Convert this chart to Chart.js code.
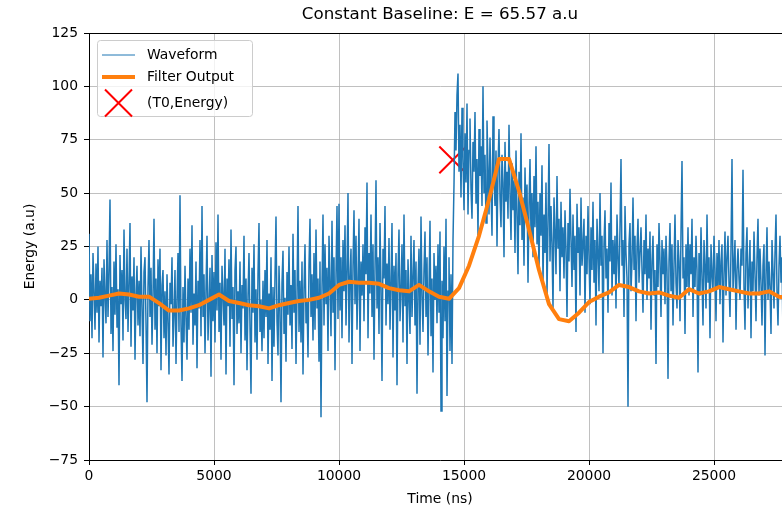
<!DOCTYPE html>
<html>
<head>
<meta charset="utf-8">
<script src="https://cdn.jsdelivr.net/npm/chart.js@4"></script>
<style>
  html, body { margin: 0; padding: 0; background: #fff; overflow: hidden; }
  #wrap { width: 782px; height: 511px; overflow: hidden; }
</style>
</head>
<body>
<div id="wrap"><canvas id="chart" width="792" height="511"></canvas></div>
<script>
const FONT = "'DejaVu Sans', sans-serif";

// waveform, one sample every 40 ns starting at t = 0 (one row = 1000 ns)
const waveStep = 40;
const waveform = [
  31, -10, 12, -18, 22, 4, -14, 17, -6, 25, -20, 9, -3, 15, -27, 19, 2, -11, 28, -8, 13, 47, -16, 6, -24,
  18, -7, 26, -13, 5, -40, 21, -2, 14, -19, 33, 0, -9, 24, -15, 8, 36, -22, 11, -5, 20, -28, 3, 16, -12,
  9, -17, 25, -4, -30, 13, 20, -11, -48, 6, 28, -8, 15, -21, 2, 38, -14, 10, -25, 19, -3, 24, -33, 7, 14,
  -18, 4, -26, 12, -10, -35, 8, -2, 20, -22, -7, 14, -30, 0, 22, -15, 49, -12, -38, 6, -20, 16, -9, -28, 10,
  -14, 24, -6, 35, -21, 3, -12, 18, -32, 9, -4, 28, -17, 44, -8, 12, -25, 5, 30, -19, -2, 15, -36, 21, -10,
  13, -20, 27, -5, 40, -15, 8, -28, 16, 2, -12, 24, -35, 10, -3, 19, -22, 33, -9, 6, -40, 14, 25, -16, 4,
  -11, 18, -25, 7, -4, 30, -19, 10, -33, 2, 22, -13, -44, 15, -6, 26, -20, 5, -28, 12, 36, -15, 0, -24, 9,
  -18, 14, -8, 28, -30, 3, -14, 20, -38, 6, -22, 11, 39, -10, -26, 16, -4, -48, 8, 23, -16, 1, -29, 13, -7,
  25, -12, 7, -23, 31, -6, 14, -30, 2, 44, -15, 9, -20, 18, -35, 5, 26, -11, 0, -27, 16, 38, -8, 12, -19,
  22, -14, 33, -4, 10, -29, 18, -55, 6, 40, -12, 26, -2, 15, -24, 30, 8, -17, 37, -6, 20, -33, 12, 44, -9,
  45, -5, 20, -18, 28, 4, 35, -12, 14, 50, -20, 10, 24, -30, 16, 42, -2, 30, -14, 8, 38, -24, 18, 2, 26,
  -10, 34, 12, 55, -18, 22, 3, 40, -8, 26, -28, 15, 56, -4, 20, -16, 36, 6, -38, 24, 10, 44, -12, 17, -2,
  29, -14, 8, 36, -27, 16, -5, 22, -40, 12, 33, -10, 4, 26, -20, 40, -3, 14, -30, 19, 1, -16, 30, -8, 11,
  28, -12, 18, -44, 7, 24, -21, 39, 2, -15, 14, 32, -8, 20, -26, 5, 37, -17, 10, -34, 22, 0, 16, -11, 26,
  -6, 32, -52, 9, -18, 25, -10, 38, -45, 4, 20, -24, 12, -30, 28, 54, 88, 70, 96, 106, 60, 82, 48, 90, 66,
  42, 78, 55, 92, 40, 70, 85, 52, 38, 74, 60, 88, 45, 66, 30, 80, 58, 72, 44, 100, 50, 68, 36, 84, 62,
  40, 76, 52, 30, 86, 58, 44, 70, 25, 62, 80, 48, 34, 68, 55, 20, 74, 46, 60, 38, 82, 50, 28, 64, 42,
  56, 22, 70, 40, 12, 60, 35, 78, 28, 48, 16, 62, 38, 54, 8, 44, 66, 30, 50, 20, 58, 34, 72, 26, 46,
  14, 50, 30, 63, 8, 40, 22, 55, 2, 36, 73, 18, 44, 26, -4, 48, 32, 12, 58, 24, 38, 4, 46, 20, 34,
  10, 42, 24, -8, 36, 18, 52, 28, 6, 40, 14, 30, -15, 45, 22, 34, 2, 48, 16, 26, 38, -6, 30, 12, 44,
  20, -2, 34, 14, 46, 8, 28, -12, 38, 22, 4, 50, 16, 30, -25, 26, 42, 10, 24, -6, 36, 18, 55, 2, 28,
  12, 30, -4, 40, 20, 6, 34, 66, 16, 28, -8, 44, 22, 10, -50, 26, 36, 4, 18, 48, 14, 30, -10, 24, 38,
  8, 22, 34, 14, -6, 28, 12, 40, 0, 24, 10, 32, -14, 18, 30, 2, 14, -30, 26, 6, 36, 18, -8, 28, 12,
  24, -2, 30, 14, -37, 18, 36, 4, 26, -12, 16, 40, 8, -4, 28, 18, -10, 32, 65, 10, 20, -16, 26, 6, 34,
  2, 26, 12, 38, -8, 20, 6, 30, 14, -34, 22, 2, 34, 10, -12, 28, 16, -4, 40, 8, 20, -18, 26, 12, 4,
  30, 14, -10, 22, 6, 28, -2, 18, 26, -20, 12, 32, 2, 20, 30, 8, -8, 24, 66, 4, 16, 28, -14, 14, 24,
  10, 0, 24, 16, 61, 6, -14, 22, 34, -4, 14, 28, -18, 18, 4, 32, 12, -10, 20, 38, 2, 24, 8, -12, 16,
  26, -26, 12, 34, 0, 18, 6, -16, 28, 14, -4, 22, 40, 4, -12, 16, 30, 8, 20, -18, 24, 2, 32, 10, -2,
  18, 6, 24
];

// filter output, one value every 400 ns
const filterStep = 400;
const filterOutput = [
  0.5, 1, 2, 3, 2.5, 1.5, 1.5, -1.5, -5, -5,
  -4, -2.5, 0, 2.5, -0.5, -1.5, -2.5, -3, -4, -2.5,
  -1.5, -0.5, 0, 1, 3, 7, 8.5, 8, 8, 7.5,
  5.5, 4.5, 4, 7, 4, 1.5, 0.5, 5.5, 16, 30,
  47, 66, 66, 51, 33, 14, -2, -9, -10, -6,
  -1, 1.5, 3.5, 7, 6, 4, 3, 3.5, 2, 1,
  5, 3, 4, 6, 5, 4, 3, 3, 4, 1.5, 1
];

const t0 = 14550;
const energy = 65.57;

const xMax = 28080;
const xTicks = [0, 5000, 10000, 15000, 20000, 25000];
const yMin = -75, yMax = 125;
const yTicks = [-75, -50, -25, 0, 25, 50, 75, 100, 125];

const titleText = "Constant Baseline: E = " + energy + " a.u";
const legendItems = ["Waveform", "Filter Output", "(T0,Energy)"];

const mplDecor = {
  id: "mplDecor",
  afterDraw(chart) {
    const { ctx, chartArea } = chart;
    ctx.save();
    // top spine
    ctx.strokeStyle = "#000";
    ctx.lineWidth = 1;
    ctx.beginPath();
    ctx.moveTo(chartArea.left, Math.round(chartArea.top) + 0.5);
    ctx.lineTo(chartArea.right, Math.round(chartArea.top) + 0.5);
    ctx.stroke();

    // title centred over the axes
    ctx.fillStyle = "#000";
    ctx.font = "16.7px " + FONT;
    ctx.textAlign = "center";
    ctx.textBaseline = "middle";
    ctx.fillText(titleText, (chartArea.left + chartArea.right) / 2, 15);

    // legend box
    const bx = chartArea.left + 8, by = chartArea.top + 7, bw = 155, bh = 76;
    ctx.beginPath();
    ctx.roundRect(bx + 0.5, by + 0.5, bw, bh, 3);
    ctx.fillStyle = "rgba(255,255,255,0.8)";
    ctx.fill();
    ctx.strokeStyle = "#cccccc";
    ctx.stroke();

    const rows = [by + 15, by + 37, by + 63];
    const lx0 = bx + 5, lx1 = bx + 38;
    ctx.strokeStyle = "#1f77b4";
    ctx.lineWidth = 1;
    ctx.beginPath();
    ctx.moveTo(lx0, rows[0]); ctx.lineTo(lx1, rows[0]);
    ctx.stroke();
    ctx.strokeStyle = "#ff7f0e";
    ctx.lineWidth = 4;
    ctx.beginPath();
    ctx.moveTo(lx0, rows[1]); ctx.lineTo(lx1, rows[1]);
    ctx.stroke();
    ctx.strokeStyle = "red";
    ctx.lineWidth = 2;
    const cx = (lx0 + lx1) / 2, h = 13.5;
    ctx.beginPath();
    ctx.moveTo(cx - h, rows[2] - h); ctx.lineTo(cx + h, rows[2] + h);
    ctx.moveTo(cx - h, rows[2] + h); ctx.lineTo(cx + h, rows[2] - h);
    ctx.stroke();

    ctx.fillStyle = "#000";
    ctx.font = "13.9px " + FONT;
    ctx.textAlign = "left";
    legendItems.forEach((label, i) => ctx.fillText(label, bx + 50, rows[i]));
    ctx.restore();
  },
};

const minus = (v) => String(v).replace("-", "\u2212");

const data = {
  datasets: [
    {
      label: legendItems[0],
      data: waveform.map((v, i) => ({ x: i * waveStep, y: v })),
      borderColor: "#1f77b4",
      borderWidth: 1.5,
      pointRadius: 0,
      order: 2,
    },
    {
      label: legendItems[1],
      data: filterOutput.map((v, i) => ({ x: i * filterStep, y: v })),
      borderColor: "#ff7f0e",
      borderWidth: 4,
      borderJoinStyle: "round",
      borderCapStyle: "round",
      pointRadius: 0,
      order: 1,
    },
    {
      label: legendItems[2],
      data: [{ x: t0, y: energy }],
      showLine: false,
      pointStyle: "crossRot",
      pointRadius: 19,
      pointBorderColor: "red",
      pointBorderWidth: 2,
      order: 3,
    },
  ],
};

const tickFont = { family: FONT, size: 13.9 };
const gridStyle = { color: "#b0b0b0", lineWidth: 0.8, tickColor: "#000", tickLength: 5, tickWidth: 1 };

const options = {
  responsive: false,
  animation: false,
  devicePixelRatio: 1,
  layout: { autoPadding: false, padding: { left: 0, right: 1, top: 33, bottom: 0 } },
  plugins: {
    legend: { display: false },
    tooltip: { enabled: false },
    title: { display: false },
  },
  scales: {
    x: {
      type: "linear",
      min: 0,
      max: xMax,
      afterBuildTicks: (s) => { s.ticks = xTicks.map((value) => ({ value })); },
      ticks: {
        autoSkip: false,
        maxRotation: 0,
        color: "#000",
        font: tickFont,
        padding: 3,
        callback: (v) => String(v),
      },
      grid: gridStyle,
      border: { color: "#000", width: 1 },
      title: { display: true, text: "Time (ns)", color: "#000", font: tickFont, padding: { top: 0, bottom: 3 } },
      afterFit: (s) => { s.height = 51; s.paddingLeft = 0; s.paddingRight = 0; },
    },
    y: {
      min: yMin,
      max: yMax,
      afterBuildTicks: (s) => { s.ticks = yTicks.map((value) => ({ value })); },
      ticks: {
        autoSkip: false,
        color: "#000",
        font: tickFont,
        padding: 6,
        callback: (v) => minus(v),
      },
      grid: gridStyle,
      border: { color: "#000", width: 1 },
      title: { display: true, text: "Energy (a.u)", color: "#000", font: tickFont, padding: { top: 22, bottom: 0 } },
      afterFit: (s) => { s.width = 89; },
    },
  },
};

new Chart("chart", { type: "line", data, options, plugins: [mplDecor] });
</script>
</body>
</html>
